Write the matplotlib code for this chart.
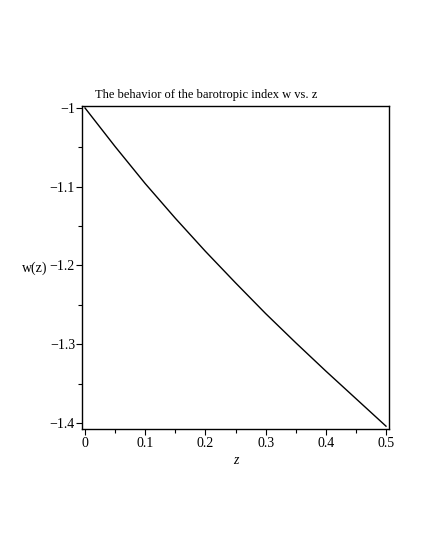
import matplotlib
matplotlib.use("Agg")
import matplotlib.pyplot as plt
from matplotlib.ticker import MultipleLocator

z = [0.0, 0.05, 0.1, 0.15, 0.2, 0.25, 0.3, 0.35, 0.4, 0.45, 0.5]
w = [-1.0, -1.049, -1.096, -1.140, -1.182, -1.222, -1.261, -1.298, -1.334, -1.369, -1.404]

xticks = [0, 0.1, 0.2, 0.3, 0.4, 0.5]
xticklabels = ["0", "0.1", "0.2", "0.3", "0.4", "0.5"]
yticks = [-1.0, -1.1, -1.2, -1.3, -1.4]
yticklabels = ["\u22121", "\u22121.1", "\u22121.2", "\u22121.3", "\u22121.4"]

plt.rcParams['font.family'] = ['Liberation Serif', 'DejaVu Serif']

fig = plt.figure(figsize=(4.25, 5.5), dpi=100)
ax = fig.add_axes([82/425, 1 - 429/550, (389 - 82)/425, (429 - 106)/550])
ax.plot(z, w, color='black', lw=1.0)
ax.set_xlim(-0.005, 0.505)
ax.set_ylim(-1.4076, -0.9975)

ax.set_xticks(xticks)
ax.set_xticklabels(xticklabels)
ax.set_yticks(yticks)
ax.set_yticklabels(yticklabels)
ax.xaxis.set_minor_locator(MultipleLocator(0.05))
ax.yaxis.set_minor_locator(MultipleLocator(0.05))
ax.tick_params(which='both', direction='out', width=0.8, labelsize=10, colors='black')
ax.tick_params(which='major', length=4, pad=2)
ax.tick_params(axis='y', which='major', pad=1)
ax.tick_params(which='minor', length=3)
for s in ax.spines.values():
    s.set_linewidth(1.0)

ax.set_xlabel("z", fontsize=10, fontstyle='italic', labelpad=3)
fig.text(22/425, 1 - 268/550, "w(z)", fontsize=10, va='center', ha='left')
fig.text(95/425, 1 - 95/550, "The behavior of the barotropic index w vs. z", fontsize=9, va='center', ha='left')

fig.savefig("out.png", dpi=100)
